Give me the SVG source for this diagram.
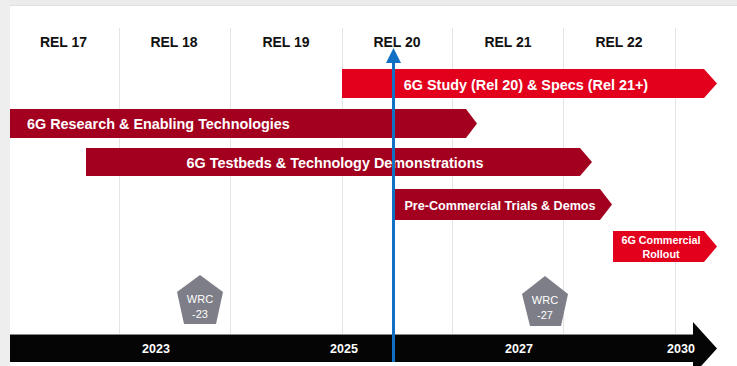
<svg xmlns="http://www.w3.org/2000/svg" width="737" height="366" viewBox="0 0 737 366">
<style>
.hdr{font-family:"Liberation Sans",Arial,sans-serif;font-weight:bold;font-size:14px;fill:#111;text-anchor:middle}
.bt{font-family:"Liberation Sans",Arial,sans-serif;font-weight:bold;font-size:14.4px;fill:#fff}
.grid{stroke:#e4e4e4;stroke-width:1}
.bright{fill:#e2001d}
.dark{fill:#a3001f}
.pent{fill:#7e7e88}
.pt{font-family:"Liberation Sans",Arial,sans-serif;font-size:11px;fill:#fff;text-anchor:middle}
.yr{font-family:"Liberation Sans",Arial,sans-serif;font-weight:bold;font-size:12.5px;fill:#fff;text-anchor:middle}
</style>
<rect x="0" y="0" width="737" height="366" fill="#ffffff"/>
<rect x="0" y="0" width="737" height="5" fill="#ececec"/>
<line x1="10" y1="5.5" x2="737" y2="5.5" stroke="#e0e0e0" stroke-width="1"/>
<rect x="0" y="0" width="10" height="366" fill="#eeeeee"/>
<g id="grid">
<line class="grid" x1="119.5" y1="28" x2="119.5" y2="335"/>
<line class="grid" x1="230.5" y1="28" x2="230.5" y2="335"/>
<line class="grid" x1="342.5" y1="28" x2="342.5" y2="335"/>
<line class="grid" x1="452.5" y1="28" x2="452.5" y2="335"/>
<line class="grid" x1="563.5" y1="28" x2="563.5" y2="335"/>
<line class="grid" x1="675.5" y1="28" x2="675.5" y2="335"/>
</g>
<g id="headers">
<text class="hdr" x="63.5" y="47">REL 17</text>
<text class="hdr" x="174" y="47">REL 18</text>
<text class="hdr" x="286" y="47">REL 19</text>
<text class="hdr" x="397" y="47">REL 20</text>
<text class="hdr" x="508" y="47">REL 21</text>
<text class="hdr" x="619" y="47">REL 22</text>
</g>
<g id="bar-study">
<polygon class="bright" points="342,69 704,69 717,83.5 704,98 342,98"/>
<text class="bt" x="526" y="89.5" text-anchor="middle">6G Study (Rel 20) &amp; Specs (Rel 21+)</text>
</g>
<g id="bar-research">
<polygon class="dark" points="10,109 466,109 477,123.5 466,138 10,138"/>
<text class="bt" x="27" y="129">6G Research &amp; Enabling Technologies</text>
</g>
<g id="bar-testbeds">
<polygon class="dark" points="86,148 580,148 592,162 580,176 86,176"/>
<text class="bt" x="335" y="167.5" text-anchor="middle">6G Testbeds &amp; Technology Demonstrations</text>
</g>
<g id="bar-trials">
<polygon class="dark" points="395,189 600,189 612,204.5 600,220 395,220"/>
<text class="bt" x="500" y="210" text-anchor="middle" style="font-size:12.6px">Pre-Commercial Trials &amp; Demos</text>
</g>
<g id="bar-rollout">
<polygon class="bright" points="613,231 704,231 717,246.5 704,262 613,262"/>
<text class="bt" x="661" y="243.5" text-anchor="middle" style="font-size:10.8px">6G Commercial</text>
<text class="bt" x="661" y="258" text-anchor="middle" style="font-size:10.8px">Rollout</text>
</g>
<g id="wrc23">
<polygon class="pent" points="200,275 223,292 216,324 184,324 177,292"/>
<text class="pt" x="200" y="303">WRC</text>
<text class="pt" x="200" y="318">-23</text>
</g>
<g id="wrc27">
<polygon class="pent" points="545,276 568,294 561,326 530,326 522,294"/>
<text class="pt" x="545" y="304">WRC</text>
<text class="pt" x="545" y="319">-27</text>
</g>
<g id="timeline">
<line x1="10" y1="334.5" x2="693" y2="334.5" stroke="#888" stroke-width="1"/>
<polygon fill="#050505" points="10,335 693,335 693,322 717,348.5 693,375 693,362 10,362"/>
<text class="yr" x="156" y="353">2023</text>
<text class="yr" x="344" y="353">2025</text>
<text class="yr" x="519" y="353">2027</text>
<text class="yr" x="681" y="353">2030</text>
</g>
<g id="connectors">
<line x1="393.5" y1="362" x2="393.5" y2="60" stroke="#1170c4" stroke-width="3"/>
<polygon fill="#1170c4" points="386,63 393.5,48 401,63"/>
</g>
</svg>
